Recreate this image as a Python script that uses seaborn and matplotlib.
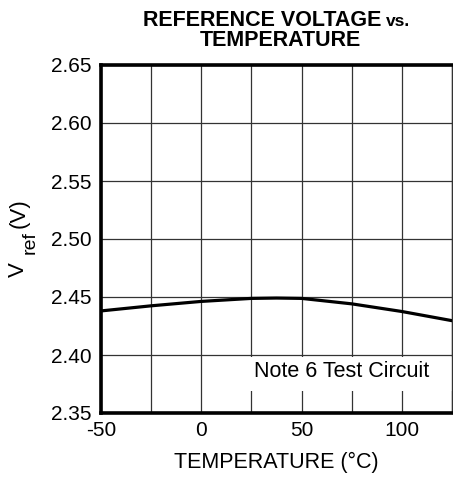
import matplotlib
matplotlib.use("Agg")
import matplotlib.pyplot as plt
import seaborn as sns
import pandas as pd
from matplotlib.ticker import MultipleLocator, FormatStrFormatter
from matplotlib.patches import Rectangle

temperature = [-50, -25, 0, 25, 37.5, 50, 75, 100, 125]
vref = [2.438, 2.4424, 2.4462, 2.4488, 2.4491, 2.4488, 2.4441, 2.4375, 2.4296]
x_ticks = [-50, 0, 50, 100]
y_ticks = [2.35, 2.40, 2.45, 2.50, 2.55, 2.60, 2.65]

sns.set_style("white")
plt.rcParams['font.family'] = ['Liberation Sans', 'DejaVu Sans']
plt.rcParams['axes.unicode_minus'] = False
for k in ['text.color', 'axes.labelcolor', 'xtick.color', 'ytick.color']:
    plt.rcParams[k] = 'black'

W, H = 453, 480
fig = plt.figure(figsize=(W / 100, H / 100), dpi=100)
ax = fig.add_axes([101 / W, 1 - 413 / H, 351 / W, 348 / H])

df = pd.DataFrame({"t": temperature, "v": vref})
sns.lineplot(data=df, x="t", y="v", ax=ax, color="black", lw=2.3, zorder=3)

ax.set_xlim(-50, 125)
ax.set_ylim(2.35, 2.65)
ax.set_xticks(x_ticks)
ax.xaxis.set_minor_locator(MultipleLocator(25))
ax.set_yticks(y_ticks)
ax.yaxis.set_major_formatter(FormatStrFormatter('%.2f'))
ax.set_axisbelow(True)
ax.grid(True, which='both', color='#333333', lw=0.9)
ax.tick_params(axis='both', which='both', length=0, labelsize=15)
ax.tick_params(axis='y', pad=7)
ax.tick_params(axis='x', pad=6)

for s in ['left', 'bottom', 'top']:
    ax.spines[s].set_linewidth(2.6)
    ax.spines[s].set_color('black')
ax.spines['right'].set_linewidth(1.0)
ax.spines['right'].set_color('#333333')

ax.set_xlabel('TEMPERATURE (°C)', fontsize=15.5, labelpad=8)
ax.set_ylabel('')

# y label composed of pieces (large subscript as in reference)
fig.text(18 / W, 1 - 270 / H, 'V', fontsize=16, rotation=90, ha='center', va='center')
fig.text(30 / W, 1 - 243 / H, 'ref', fontsize=14, rotation=90, ha='center', va='center')
fig.text(19 / W, 1 - 213 / H, '(V)', fontsize=16, rotation=90, ha='center', va='center')

# white background behind the note (grid interrupted)
ax.add_patch(Rectangle((21.5, 2.369), 103.3, 0.029, facecolor='white',
                       edgecolor='none', zorder=1))
ax.text(70, 2.3855, 'Note 6 Test Circuit', fontsize=15.5, ha='center', va='center',
        zorder=4)

fig.text(381 / W, 1 - 25.7 / H, 'REFERENCE VOLTAGE', fontsize=15.5, fontweight='bold',
         ha='right', va='baseline')
fig.text(386 / W, 1 - 25.7 / H, 'vs.', fontsize=12.5, fontweight='bold',
         ha='left', va='baseline')
fig.text(280 / W, 1 - 45.7 / H, 'TEMPERATURE', fontsize=15.5, fontweight='bold',
         ha='center', va='baseline')

fig.savefig('out.png', dpi=100)
